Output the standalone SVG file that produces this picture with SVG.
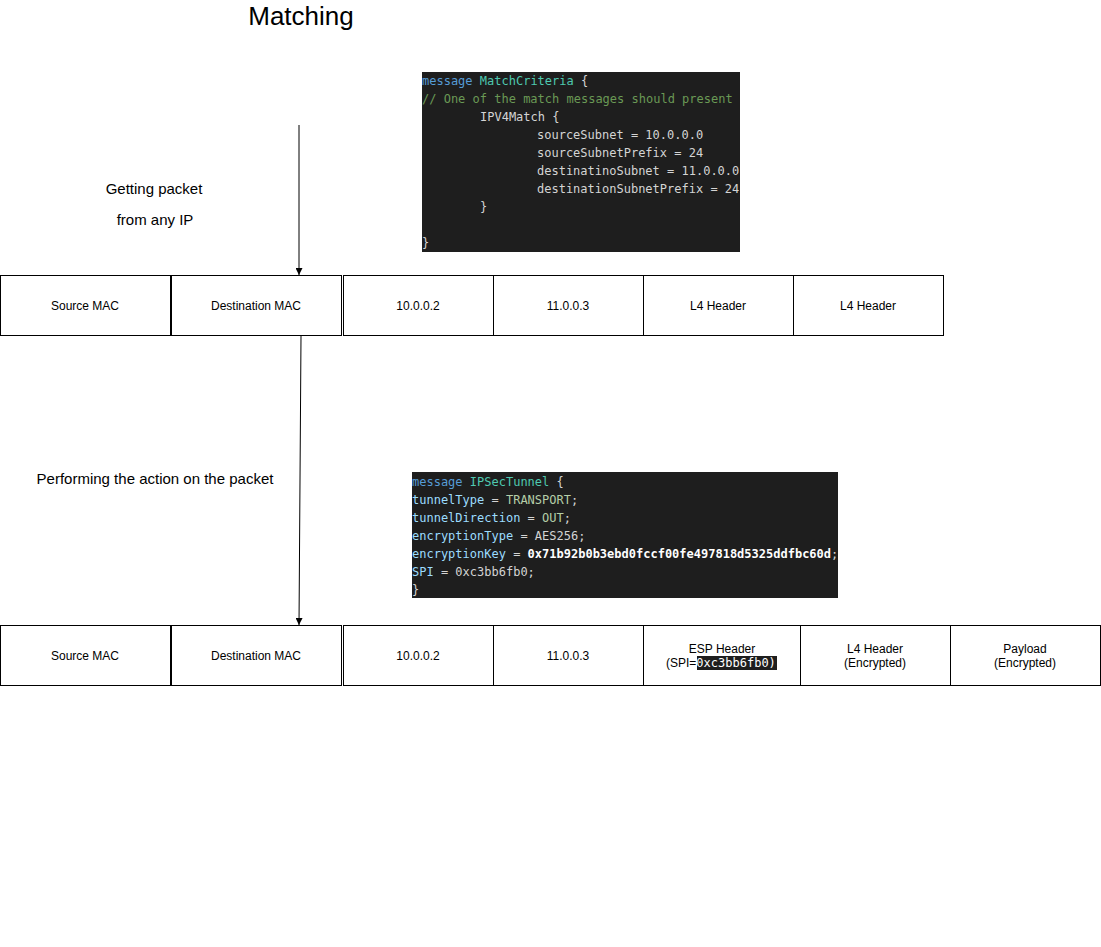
<svg xmlns="http://www.w3.org/2000/svg" width="1101" height="947" viewBox="0 0 1101 947">
<style>
.box{fill:#fff;stroke:#000;stroke-width:1}
.lbl{font-family:"Liberation Sans",Arial,sans-serif;font-size:12px;fill:#000;text-anchor:middle}
.note{font-family:"Liberation Sans",Arial,sans-serif;font-size:15px;fill:#000;text-anchor:middle}
.code{font-family:"DejaVu Sans Mono",monospace;font-size:12px;fill:#d4d4d4}
.kw{fill:#569cd6}.ty{fill:#4ec9b0}.cm{fill:#6a9955}.pr{fill:#9cdcfe}.en{fill:#b5cea8}.bw{fill:#ffffff;font-weight:bold}
.conn{stroke:#000;stroke-width:1;fill:none}
</style>
<defs>
<marker id="arr" viewBox="0 0 10 10" refX="10" refY="5" markerWidth="7" markerHeight="7" orient="auto" markerUnits="userSpaceOnUse">
<path d="M0,0 L10,5 L0,10 z" fill="#000"/>
</marker>
</defs>
<rect width="1101" height="947" fill="#fff"/>
<text id="title" x="301" y="25" font-family="Liberation Sans,Arial,sans-serif" font-size="26" text-anchor="middle">Matching</text>
<g id="note1"><text class="note" x="154" y="194">Getting packet</text><text class="note" x="155" y="225">from any IP</text></g>
<g id="note2"><text class="note" x="155" y="484">Performing the action on the packet</text></g>
<g id="code1">
<rect x="422" y="72" width="318" height="180" fill="#1e1e1e"/>
<text class="code" x="422" y="85"><tspan class="kw">message</tspan> <tspan class="ty">MatchCriteria</tspan> {</text>
<text class="code cm" x="422" y="103">// One of the match messages should present</text>
<text class="code" x="480" y="121">IPV4Match {</text>
<text class="code" x="537" y="139">sourceSubnet = 10.0.0.0</text>
<text class="code" x="537" y="157">sourceSubnetPrefix = 24</text>
<text class="code" x="537" y="175">destinatinoSubnet = 11.0.0.0</text>
<text class="code" x="537" y="193">destinationSubnetPrefix = 24</text>
<text class="code" x="480" y="211">}</text>
<text class="code" x="422" y="247">}</text>
</g>
<g id="code2">
<rect x="412" y="472" width="426" height="126" fill="#1e1e1e"/>
<text class="code" x="412" y="486"><tspan class="kw">message</tspan> <tspan class="ty">IPSecTunnel</tspan> {</text>
<text class="code" x="412" y="504"><tspan class="pr">tunnelType</tspan> = <tspan class="en">TRANSPORT</tspan>;</text>
<text class="code" x="412" y="522"><tspan class="pr">tunnelDirection</tspan> = <tspan class="en">OUT</tspan>;</text>
<text class="code" x="412" y="540"><tspan class="pr">encryptionType</tspan> = AES256;</text>
<text class="code" x="412" y="558"><tspan class="pr">encryptionKey</tspan> = <tspan class="bw">0x71b92b0b3ebd0fccf00fe497818d5325ddfbc60d</tspan>;</text>
<text class="code" x="412" y="576"><tspan class="pr">SPI</tspan> = 0xc3bb6fb0;</text>
<text class="code" x="412" y="594">}</text>
</g>
<g id="row1">
<g id="r1-srcmac"><rect class="box" x="0.5" y="275.5" width="170" height="60"/><text class="lbl" x="85" y="310">Source MAC</text></g>
<g id="r1-dstmac"><rect class="box" x="171.5" y="275.5" width="170" height="60"/><text class="lbl" x="256" y="310">Destination MAC</text></g>
<g id="r1-srcip"><rect class="box" x="343.5" y="275.5" width="150" height="60"/><text class="lbl" x="418" y="310">10.0.0.2</text></g>
<g id="r1-dstip"><rect class="box" x="493.5" y="275.5" width="150" height="60"/><text class="lbl" x="568" y="310">11.0.0.3</text></g>
<g id="r1-l4a"><rect class="box" x="643.5" y="275.5" width="150" height="60"/><text class="lbl" x="718" y="310">L4 Header</text></g>
<g id="r1-l4b"><rect class="box" x="793.5" y="275.5" width="150" height="60"/><text class="lbl" x="868" y="310">L4 Header</text></g>
</g>
<g id="row2">
<g id="r2-srcmac"><rect class="box" x="0.5" y="625.5" width="170" height="60"/><text class="lbl" x="85" y="660">Source MAC</text></g>
<g id="r2-dstmac"><rect class="box" x="171.5" y="625.5" width="170" height="60"/><text class="lbl" x="256" y="660">Destination MAC</text></g>
<g id="r2-srcip"><rect class="box" x="343.5" y="625.5" width="150" height="60"/><text class="lbl" x="418" y="660">10.0.0.2</text></g>
<g id="r2-dstip"><rect class="box" x="493.5" y="625.5" width="150" height="60"/><text class="lbl" x="568" y="660">11.0.0.3</text></g>
<g id="r2-esp"><rect class="box" x="643.5" y="625.5" width="157" height="60"/>
<text class="lbl" x="722" y="653">ESP Header</text>
<rect x="697" y="656" width="80" height="14" fill="#1e1e1e"/>
<text x="666" y="667" font-family="Liberation Sans,Arial,sans-serif" font-size="12">(SPI=<tspan font-family="DejaVu Sans Mono,monospace" fill="#fff">0xc3bb6fb0)</tspan></text>
</g>
<g id="r2-l4"><rect class="box" x="800.5" y="625.5" width="150" height="60"/><text class="lbl" x="875" y="653">L4 Header</text><text class="lbl" x="875" y="667">(Encrypted)</text></g>
<g id="r2-payload"><rect class="box" x="950.5" y="625.5" width="150" height="60"/><text class="lbl" x="1025" y="653">Payload</text><text class="lbl" x="1025" y="667">(Encrypted)</text></g>
</g>
<g id="connectors">
<line class="conn" x1="299" y1="125" x2="299" y2="275" marker-end="url(#arr)"/>
<line class="conn" x1="301" y1="336" x2="299" y2="625" marker-end="url(#arr)"/>
</g>
</svg>
